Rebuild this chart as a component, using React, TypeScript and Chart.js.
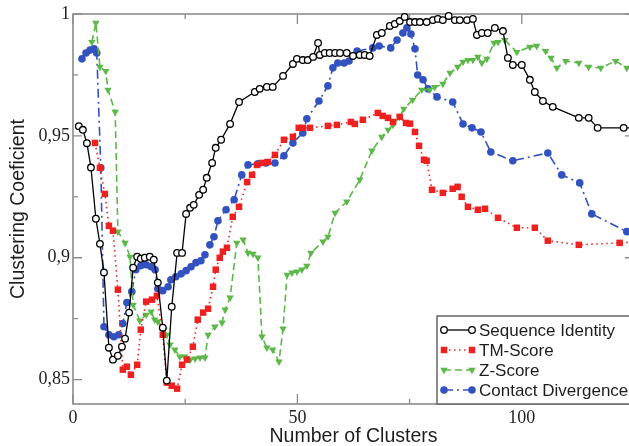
import React, { useEffect, useRef } from 'react';
import { Chart, registerables } from 'chart.js';

Chart.register(...registerables);

// ---- axis ticks ----
const xTickValues = [0, 25, 50, 75, 100];
const xTickLabels = ['0', '', '50', '', '100'];
const yTickValues = [0.85, 0.875, 0.9, 0.925, 0.95, 0.975, 1];
const yTickLabels = ['0,85', '', '0,9', '', '0,95', '', '1'];

const xTitle = 'Number of Clusters';
const yTitle = 'Clustering Coeficient';
const seriesNames = ['Sequence Identity', 'TM-Score', 'Z-Score', 'Contact Divergence'];

// ---- series: [number of clusters, clustering coefficient] ----
const sequenceIdentity: [number, number][] = [
  [1.3, 0.954], [2.2, 0.9525], [3.1, 0.947], [4, 0.937], [5.1, 0.916], [6, 0.9057], [6.9, 0.894],
  [8, 0.8631], [8.9, 0.8582], [10, 0.8598], [10.9, 0.8635], [11.6, 0.8668], [12.5, 0.8775],
  [13.4, 0.8959], [14.3, 0.9004], [15.1, 0.8996], [16, 0.9], [17.1, 0.9004], [18, 0.8992],
  [18.9, 0.8898], [20, 0.8713], [20.9, 0.8496], [22, 0.8799], [23.2, 0.902], [24.3, 0.902],
  [25.2, 0.918], [26.1, 0.9205], [26.9, 0.9217], [28.1, 0.9258], [29, 0.9279], [29.8, 0.9328],
  [31, 0.9389], [31.8, 0.9451], [33, 0.9484], [35, 0.9549], [37, 0.9639], [40.5, 0.968],
  [41.6, 0.9693], [43.2, 0.9701], [44.5, 0.9701], [46.8, 0.9746], [49, 0.9795], [49.9, 0.9816],
  [51.2, 0.9811], [52.3, 0.9811], [53.5, 0.9824], [54.6, 0.9881], [55, 0.9832], [56.1, 0.984],
  [57.2, 0.984], [58.4, 0.984], [59.5, 0.984], [61, 0.984], [62.4, 0.9828], [63.9, 0.9832],
  [65, 0.9832], [66.1, 0.9828], [67.7, 0.9914], [68.8, 0.9922], [70.6, 0.9951], [71.7, 0.9959],
  [72.8, 0.9971], [73.9, 0.9988], [75.1, 0.9967], [76.2, 0.9967], [77.3, 0.9967], [78.8, 0.9967],
  [80.2, 0.9975], [81.3, 0.998], [82.4, 0.9975], [83.7, 0.9992], [85.1, 0.9975], [86.2, 0.9975],
  [87.8, 0.9975], [89.1, 0.998], [90, 0.9914], [91.1, 0.9922], [92.4, 0.9922], [94, 0.9943],
  [95.8, 0.993], [96.9, 0.982], [98, 0.9791], [100, 0.9791], [101.8, 0.973], [102.9, 0.968],
  [104.7, 0.9643], [106.9, 0.9619], [112.7, 0.9574], [114.9, 0.9574], [116.9, 0.9533],
  [122.7, 0.9533], [125, 0.9533],
];

const tmScore: [number, number][] = [
  [4.9, 0.9471], [6, 0.9369], [7.1, 0.9262], [8, 0.9131], [8.9, 0.9111], [10, 0.8869],
  [11.1, 0.8541], [12, 0.8553], [12.9, 0.852], [14.3, 0.8561], [15.1, 0.8705], [16.3, 0.882],
  [17.6, 0.8828], [18.7, 0.8844], [20, 0.8684], [20.9, 0.8488], [22, 0.8475], [23.2, 0.8463],
  [24.3, 0.8561], [25.4, 0.8582], [26.7, 0.8635], [27.8, 0.8746], [29, 0.8775], [30.1, 0.8791],
  [31.2, 0.8881], [31.8, 0.8951], [32.7, 0.9], [33.4, 0.9025], [34.3, 0.9041], [35.6, 0.9168],
  [37, 0.9209], [38.8, 0.9311], [39.9, 0.934], [41, 0.9381], [42.1, 0.9389], [43.4, 0.9393],
  [45, 0.9422], [47, 0.9484], [49, 0.9496], [50.3, 0.9533], [51.2, 0.9533], [52.8, 0.9533],
  [56.8, 0.9541], [58.8, 0.9545], [61.9, 0.9557], [62.8, 0.9549], [64.6, 0.9566], [67.9, 0.9594],
  [69, 0.9582], [70.2, 0.9574], [71.3, 0.9557], [72.8, 0.9578], [74.2, 0.9553], [75.1, 0.955],
  [76.2, 0.9516], [77.1, 0.9459], [78.2, 0.9402], [78.8, 0.9398], [80, 0.9279], [82.4, 0.9266],
  [84.6, 0.9283], [85.7, 0.9291], [86.6, 0.925], [88, 0.9209], [90.2, 0.9197], [91.8, 0.9201],
  [94.7, 0.9164], [98.9, 0.9123], [102.9, 0.9123], [105.8, 0.907], [112.7, 0.9053],
  [121.8, 0.9061], [125, 0.9065],
];

const zScore: [number, number][] = [
  [4.2, 0.9885], [5.1, 0.9963], [6, 0.9783], [7.3, 0.9766], [7.8, 0.9689], [9.4, 0.9598],
  [10, 0.9107], [11.6, 0.9061], [12.7, 0.9004], [13.4, 0.8807], [14.9, 0.8742], [16.3, 0.8766],
  [17.4, 0.8779], [18.2, 0.8746], [18.9, 0.8738], [20.3, 0.8705], [20.9, 0.8684], [21.6, 0.8643],
  [22.7, 0.8623], [23.8, 0.8594], [24.9, 0.8594], [26.1, 0.8582], [27.2, 0.8586], [28.3, 0.859],
  [29.4, 0.859], [30.1, 0.8684], [31.6, 0.8717], [33.2, 0.8734], [33.9, 0.8787], [35, 0.8836],
  [36.5, 0.9061], [37.9, 0.9074], [39, 0.902], [40.1, 0.9016], [41.2, 0.9], [42.1, 0.8676],
  [43.2, 0.8631], [44.5, 0.8623], [45.9, 0.8574], [46.8, 0.8709], [47.7, 0.893], [48.8, 0.8939],
  [49.9, 0.8943], [51, 0.8951], [52.1, 0.8967], [53, 0.902], [55.7, 0.9066], [56.8, 0.9086],
  [58.4, 0.9184], [61, 0.923], [63.9, 0.932], [66.6, 0.9439], [68.8, 0.9496], [70.2, 0.9525],
  [71.3, 0.9545], [72.8, 0.9578], [73.7, 0.9611], [75.7, 0.9648], [77.7, 0.9689], [79.5, 0.9689],
  [80.6, 0.97], [82.4, 0.9713], [84, 0.9758], [85.7, 0.9783], [86.9, 0.9803], [88, 0.9811],
  [89.1, 0.9811], [90.2, 0.9824], [91.1, 0.9799], [92.2, 0.9816], [93.8, 0.9881], [94.7, 0.9885],
  [96.2, 0.9893], [98.9, 0.9844], [101.8, 0.9865], [103.3, 0.9869], [105.3, 0.9848],
  [106.5, 0.982], [107.8, 0.9779], [109.8, 0.9807], [112.7, 0.9799], [114.9, 0.9783],
  [117.6, 0.9779], [120.9, 0.9807], [123.4, 0.9779],
];

const contactDivergence: [number, number][] = [
  [2, 0.9816], [2.9, 0.984], [3.8, 0.9852], [4.7, 0.9857], [5.3, 0.984], [6.2, 0.9369],
  [6.9, 0.8717], [8, 0.8684], [9.1, 0.8676], [10.2, 0.8684], [11.1, 0.873], [12, 0.8816],
  [13.1, 0.8861], [14, 0.8951], [15.1, 0.8967], [16.3, 0.8971], [17.4, 0.8963], [18.3, 0.8951],
  [18.9, 0.8873], [20, 0.8865], [21.2, 0.8881], [21.8, 0.891], [22.9, 0.8922], [24.1, 0.8934],
  [25.2, 0.8947], [26.3, 0.8963], [27.4, 0.898], [28.5, 0.8988], [29.4, 0.9012], [30.5, 0.9053],
  [31.4, 0.9086], [32.3, 0.9152], [34.1, 0.9197], [35.9, 0.9238], [37.6, 0.934], [39, 0.9381],
  [41.2, 0.9385], [43, 0.9389], [45, 0.9389], [47, 0.9418], [49, 0.9471], [51.2, 0.9512],
  [52.1, 0.957], [54.8, 0.9643], [56.8, 0.9705], [57.9, 0.9779], [59, 0.9799], [60.4, 0.9799],
  [61.5, 0.9807], [63.3, 0.9848], [66.8, 0.9861], [68.2, 0.9869], [70.8, 0.9861], [72.2, 0.9893],
  [73.5, 0.9922], [74.4, 0.9943], [75.3, 0.9918], [76.2, 0.9857], [76.8, 0.975], [78, 0.973],
  [79.1, 0.9693], [81.1, 0.966], [84.6, 0.9639], [86.9, 0.9549], [88.9, 0.9533], [90.9, 0.9516],
  [93.1, 0.9434], [98, 0.9398], [105.8, 0.943], [108.9, 0.934], [112.9, 0.9307], [115.6, 0.918],
  [123.4, 0.9107],
];

const FRAME = '#8c8c8c';
const TEXT = '#1e1e1e';
const SANS = '"Liberation Sans", Arial, sans-serif';
const SERIF = '"Liberation Serif", "Times New Roman", serif';

const labelFor = (vals: number[], labels: string[], v: number) => {
  const i = vals.findIndex((t) => Math.abs(t - v) < 1e-9);
  return i >= 0 ? labels[i] : '';
};

const framePlugin = {
  id: 'frameTicks',
  beforeDatasetsDraw(chart: any) {
    const { ctx, chartArea, scales } = chart;
    const { left, right, top, bottom } = chartArea;
    ctx.save();
    ctx.strokeStyle = FRAME;
    ctx.lineWidth = 1.6;
    ctx.strokeRect(left, top, right - left, bottom - top);
    ctx.lineWidth = 1.3;
    xTickValues.forEach((v, i) => {
      const px = scales.x.getPixelForValue(v);
      const len = xTickLabels[i] ? 10 : 5;
      ctx.beginPath();
      ctx.moveTo(px, bottom);
      ctx.lineTo(px, bottom - len);
      ctx.moveTo(px, top);
      ctx.lineTo(px, top + len);
      ctx.stroke();
    });
    yTickValues.forEach((v, i) => {
      const py = scales.y.getPixelForValue(v);
      const len = yTickLabels[i] ? 9 : 5;
      ctx.beginPath();
      ctx.moveTo(left, py);
      ctx.lineTo(left + len, py);
      ctx.moveTo(right, py);
      ctx.lineTo(right - len, py);
      ctx.stroke();
    });
    ctx.restore();
  },
};

function drawMarker(ctx: CanvasRenderingContext2D, ds: any, x: number, y: number) {
  const r = ds.pointRadius;
  ctx.save();
  ctx.setLineDash([]);
  ctx.fillStyle = ds.pointBackgroundColor;
  ctx.strokeStyle = ds.pointBorderColor;
  ctx.lineWidth = ds.pointBorderWidth;
  ctx.beginPath();
  if (ds.pointStyle === 'rect') {
    const s = Math.SQRT1_2 * r;
    ctx.rect(x - s, y - s, 2 * s, 2 * s);
  } else if (ds.pointStyle === 'triangle') {
    const h = r;
    ctx.moveTo(x, y + h);
    ctx.lineTo(x - h * 0.866, y - h * 0.5);
    ctx.lineTo(x + h * 0.866, y - h * 0.5);
    ctx.closePath();
  } else {
    ctx.arc(x, y, r, 0, Math.PI * 2);
  }
  ctx.fill();
  if (ds.pointBorderWidth > 0) ctx.stroke();
  ctx.restore();
}

const legendPlugin = {
  id: 'insideLegend',
  afterDraw(chart: any) {
    const { ctx, chartArea } = chart;
    const boxL = chartArea.right - 197;
    const boxT = chartArea.bottom - 88;
    ctx.save();
    ctx.fillStyle = '#ffffff';
    ctx.fillRect(boxL, boxT, chartArea.right + 10 - boxL, chartArea.bottom - boxT);
    ctx.strokeStyle = '#666666';
    ctx.lineWidth = 1.5;
    ctx.strokeRect(boxL, boxT, chartArea.right + 10 - boxL, chartArea.bottom - boxT);
    chart.data.datasets.forEach((ds: any, i: number) => {
      const y = boxT + 14 + i * 20;
      const x1 = boxL + 7;
      const x2 = boxL + 35;
      ctx.save();
      ctx.strokeStyle = ds.borderColor;
      ctx.lineWidth = ds.borderWidth;
      ctx.setLineDash(ds.borderDash || []);
      ctx.lineCap = ds.borderCapStyle || 'butt';
      ctx.beginPath();
      ctx.moveTo(x1, y);
      ctx.lineTo(x2, y);
      ctx.stroke();
      ctx.restore();
      drawMarker(ctx, ds, x1, y);
      drawMarker(ctx, ds, x2, y);
      ctx.fillStyle = TEXT;
      ctx.font = `17px ${SANS}`;
      ctx.textBaseline = 'middle';
      ctx.textAlign = 'left';
      ctx.fillText(ds.label, boxL + 42, y + 1);
    });
    ctx.restore();
  },
};

const toXY = (arr: [number, number][]) => arr.map(([x, y]) => ({ x, y }));

export default function App() {
  const canvasRef = useRef<HTMLCanvasElement | null>(null);

  useEffect(() => {
    const canvas = canvasRef.current;
    if (!canvas) return;
    const chart = new Chart(canvas, {
      type: 'line',
      data: {
        datasets: [
          {
            label: seriesNames[0],
            data: toXY(sequenceIdentity),
            borderColor: '#000000',
            borderWidth: 1.3,
            borderDash: [],
            pointStyle: 'circle',
            pointRadius: 3.3,
            pointBorderWidth: 1.3,
            pointBackgroundColor: '#ffffff',
            pointBorderColor: '#000000',
            clip: false,
          },
          {
            label: seriesNames[1],
            data: toXY(tmScore),
            borderColor: '#ee2020',
            borderWidth: 1.6,
            borderDash: [1.5, 3.5],
            pointStyle: 'rect',
            pointRadius: 4.6,
            pointBorderWidth: 0,
            pointBackgroundColor: '#ee2020',
            pointBorderColor: '#ee2020',
            clip: false,
          },
          {
            label: seriesNames[2],
            data: toXY(zScore),
            borderColor: '#5cb848',
            borderWidth: 1.6,
            borderDash: [7, 4],
            pointStyle: 'triangle',
            pointRotation: 180,
            pointRadius: 4.3,
            pointBorderWidth: 0,
            pointBackgroundColor: '#5cb848',
            pointBorderColor: '#5cb848',
            clip: false,
          },
          {
            label: seriesNames[3],
            data: toXY(contactDivergence),
            borderColor: '#3252c0',
            borderWidth: 1.6,
            borderDash: [9, 4, 2, 4],
            pointStyle: 'circle',
            pointRadius: 3.8,
            pointBorderWidth: 0,
            pointBackgroundColor: '#3252c0',
            pointBorderColor: '#3252c0',
            clip: false,
          },
        ] as any,
      },
      options: {
        animation: false,
        responsive: false,
        devicePixelRatio: 1,
        layout: { padding: { top: 14, right: 6, left: 0, bottom: 0 } },
        plugins: { legend: { display: false }, tooltip: { enabled: false } },
        elements: { line: { tension: 0 } },
        scales: {
          x: {
            type: 'linear',
            min: 0,
            max: 125,
            grid: { display: false, drawTicks: false },
            border: { display: false },
            afterBuildTicks: (s: any) => {
              s.ticks = xTickValues.map((value) => ({ value }));
            },
            afterFit: (s: any) => {
              s.height = 42;
            },
            ticks: {
              autoSkip: false,
              maxRotation: 0,
              minRotation: 0,
              padding: 5,
              color: TEXT,
              font: { family: SERIF, size: 18, lineHeight: 1 },
              callback: (v: any) => labelFor(xTickValues, xTickLabels, Number(v)),
            },
            title: {
              display: true,
              text: xTitle,
              color: TEXT,
              font: { family: SANS, size: 19.5, lineHeight: 1 },
              padding: { top: 0, bottom: 0 },
            },
          },
          y: {
            type: 'linear',
            min: 0.84,
            max: 1,
            grid: { display: false, drawTicks: false },
            border: { display: false },
            afterBuildTicks: (s: any) => {
              s.ticks = yTickValues.map((value) => ({ value }));
            },
            afterFit: (s: any) => {
              s.width = 73;
            },
            ticks: {
              autoSkip: false,
              padding: 3,
              color: TEXT,
              font: { family: SERIF, size: 18, lineHeight: 1 },
              callback: (v: any) => labelFor(yTickValues, yTickLabels, Number(v)),
            },
            title: {
              display: true,
              text: yTitle,
              color: TEXT,
              font: { family: SANS, size: 19.5, lineHeight: 1 },
              padding: { top: 9, bottom: 0 },
            },
          },
        },
      } as any,
      plugins: [framePlugin, legendPlugin],
    });
    return () => chart.destroy();
  }, []);

  return (
    <div
      style={{
        position: 'fixed',
        left: 0,
        top: 0,
        width: 629,
        height: 446,
        overflow: 'hidden',
        background: '#ffffff',
      }}
    >
      <canvas ref={canvasRef} width={640} height={446} style={{ display: 'block' }} />
    </div>
  );
}
